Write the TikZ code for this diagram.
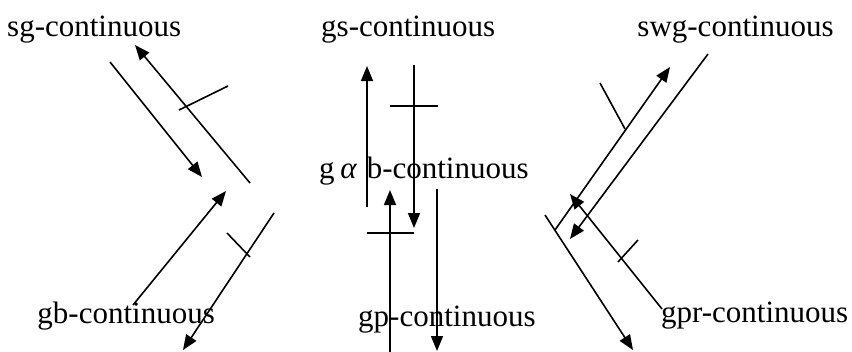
\documentclass[tikz,border=0pt]{standalone}
\usepackage{fontspec}
\setmainfont{Liberation Serif}
\usepackage{tikz}
\usetikzlibrary{arrows.meta}
\tikzset{
  lbl/.style={inner sep=0pt, font=\fontsize{31}{37}\selectfont, text=black},
  arr/.style={-{Triangle[length=15pt,width=12pt]}, line width=1.6pt, color=black},
  cut/.style={line width=1.6pt, color=black},
}

\begin{document}
\begin{tikzpicture}[x=1pt, y=-1pt]
  \useasboundingbox (0,0) rectangle (852,351);
  % labels
  \node[lbl, anchor=base west] (sg)  at (7,36)    {sg-continuous};
  \node[lbl, anchor=base west] (gs)  at (321,36)  {gs-continuous};
  \node[lbl, anchor=base east] (swg) at (834,36)  {swg-continuous};
  \node[lbl, anchor=base west] (gab) at (319,178) {g\hspace{0.18em}{\itshape α}\hspace{0.33em}b-continuous};
  \node[lbl, anchor=base east] (gb)  at (215,323) {gb-continuous};
  \node[lbl, anchor=base west] (gp)  at (358,326) {gp-continuous};
  \node[lbl, anchor=base west] (gpr) at (661,322) {gpr-continuous};
  % end points of the arrows
  \coordinate (sgA) at (110,62);   \coordinate (gabA) at (202,177);
  \coordinate (gabB) at (250,183); \coordinate (sgB) at (135,45);
  \coordinate (gbA) at (133,305);  \coordinate (gabC) at (226,191);
  \coordinate (gabD) at (274,213); \coordinate (gbB) at (183,350);
  \coordinate (gabE) at (367,207); \coordinate (gsA) at (367,66);
  \coordinate (gsB) at (414,65);   \coordinate (gabF) at (414,228);
  \coordinate (gpA) at (390,352);  \coordinate (gabG) at (390,190);
  \coordinate (gabH) at (437,189); \coordinate (gpB) at (437,351);
  \coordinate (swgA) at (708,54);  \coordinate (gabI) at (570,239);
  \coordinate (gabJ) at (555,230); \coordinate (swgB) at (670,67);
  \coordinate (gprA) at (662,309); \coordinate (gabK) at (570,194);
  \coordinate (gabL) at (545,215); \coordinate (gprB) at (633,350);
  % left
  \draw[arr] (sgA) -- (gabA);
  \draw[arr] (gabB) -- (sgB);
  \draw[arr] (gbA) -- (gabC);
  \draw[arr] (gabD) -- (gbB);
  \draw[cut] (179,110) -- (228,86);
  \draw[cut] (227,233) -- (250,257);
  % middle
  \draw[arr] (gabE) -- (gsA);
  \draw[arr] (gsB) -- (gabF);
  \draw[arr] (gpA) -- (gabG);
  \draw[arr] (gabH) -- (gpB);
  \draw[cut] (390,106) -- (438,106);
  \draw[cut] (367,233) -- (414,233);
  % right
  \draw[arr] (swgA) -- (gabI);
  \draw[arr] (gabJ) -- (swgB);
  \draw[arr] (gprA) -- (gabK);
  \draw[arr] (gabL) -- (gprB);
  \draw[cut] (600,83) -- (625,129);
  \draw[cut] (618,262) -- (638,240);
\end{tikzpicture}
\end{document}
